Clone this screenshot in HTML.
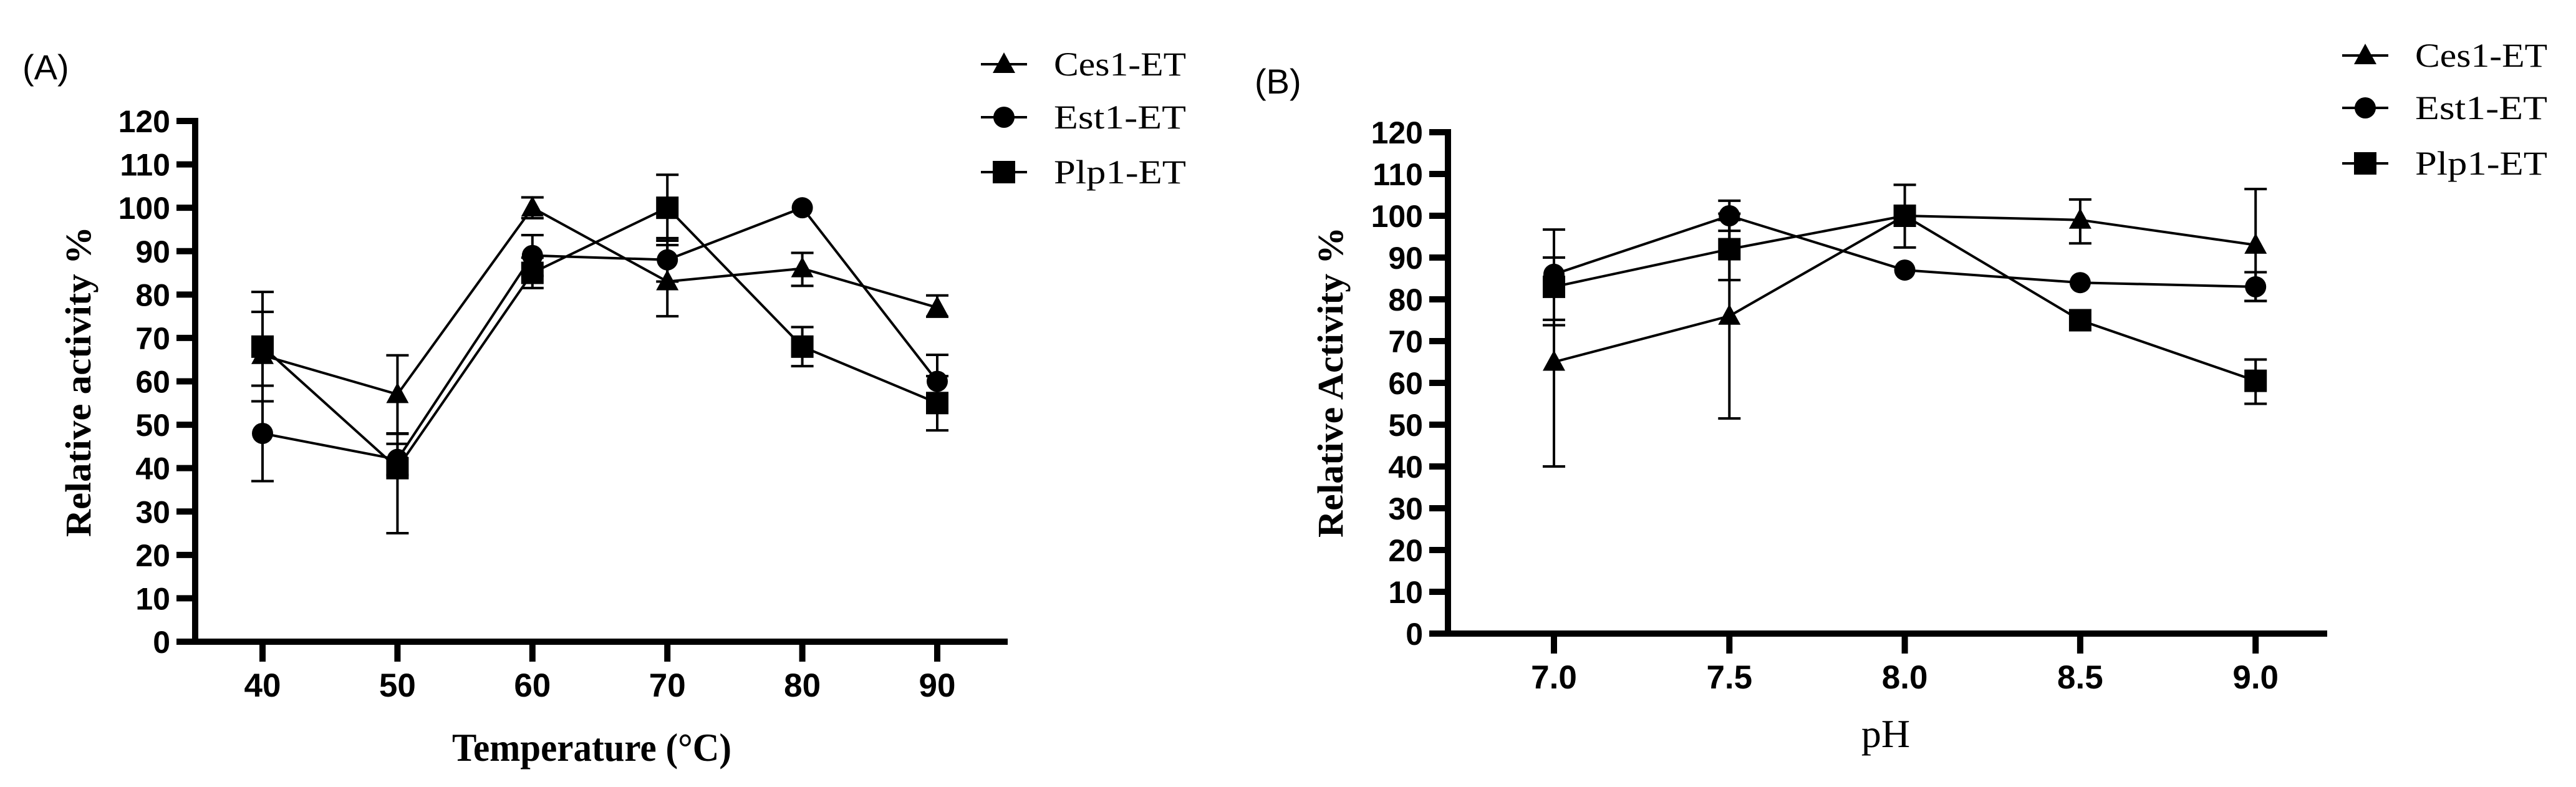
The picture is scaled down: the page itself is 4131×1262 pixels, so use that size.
<!DOCTYPE html>
<html><head><meta charset="utf-8"><style>
html,body{margin:0;padding:0;background:#fff;}
svg{display:block;}
</style></head><body>
<svg id="fig" xmlns="http://www.w3.org/2000/svg" width="4131" height="1262" viewBox="0 0 4131 1262">
<rect width="4131" height="1262" fill="#fff"/>
</svg>
<script>
// ---------- Panel A data (Temperature) ----------
const tempCategories = [40, 50, 60, 70, 80, 90];
const tempCes1 = [66, 57, 100, 83, 86, 77];
const tempCes1Hi = [76, 66, 102.4, 91.4, 89.6, 79.8];
const tempCes1Lo = [55.4, 48, 97.6, 75, 82, 74.9];
const tempEst1 = [48, 42, 89, 88, 100, 60];
const tempEst1Hi = [59, 45.6, 93.7, 93, 100, 66.1];
const tempEst1Lo = [37, 38.4, 84.3, 83, 100, 53.9];
const tempPlp1 = [68, 40, 85, 100, 68, 55];
const tempPlp1Hi = [80.6, 47.9, 88.5, 107.6, 72.5, 61.2];
const tempPlp1Lo = [55.4, 25, 81.5, 92.4, 63.5, 48.7];
// ---------- Panel B data (pH) ----------
const phCategories = ["7.0", "7.5", "8.0", "8.5", "9.0"];
const phCes1 = [65, 76, 100, 99, 93];
const phCes1Hi = [90, 100.5, 100, 103.9, 106.4];
const phCes1Lo = [40, 51.5, 100, 93.4, 79.6];
const phEst1 = [86, 100, 87, 84, 83];
const phEst1Hi = [96.7, 103.6, 87, 84, 86.5];
const phEst1Lo = [75.1, 96.4, 87, 84, 79.6];
const phPlp1 = [83, 92, 100, 75, 60.5];
const phPlp1Hi = [90, 99, 107.4, 75, 65.6];
const phPlp1Lo = [73.8, 84.6, 92.4, 75, 55];
const yTicks = [0,10,20,30,40,50,60,70,80,90,100,110,120];
const seriesNames = ["Ces1-ET", "Est1-ET", "Plp1-ET"];

const NS = "http://www.w3.org/2000/svg";
const svg = document.getElementById("fig");
function mk(tag, attrs, parent) {
  const e = document.createElementNS(NS, tag);
  for (const k in attrs) e.setAttribute(k, attrs[k]);
  (parent || svg).appendChild(e);
  return e;
}
function marker(g, shape, cx, cy) {
  let m;
  if (shape === "tri") m = mk("polygon", {points: `${cx},${cy-19} ${cx-18},${cy+14} ${cx+18},${cy+14}`, fill: "#000"}, g);
  else if (shape === "circ") m = mk("circle", {cx: cx, cy: cy, r: 17, fill: "#000"}, g);
  else m = mk("rect", {x: cx-18, y: cy-18, width: 36, height: 36, fill: "#000"}, g);
  return m;
}

function panel(cfg) {
  const g = mk("g", {});
  
  
  const yS = v => cfg.y0 - (cfg.y0 - cfg.y120) * v / 120;
  const xS = i => cfg.xFirst + i * cfg.xStep;
  const ya = mk("line", {x1: cfg.axX, y1: cfg.y120 - 5, x2: cfg.axX, y2: cfg.y0 + 5, stroke: "#000", "stroke-width": 10}, g);
  
  
  const xa = mk("line", {x1: cfg.xAxStart, y1: cfg.y0, x2: cfg.xAxEnd, y2: cfg.y0, stroke: "#000", "stroke-width": 10}, g);
  
  
  yTicks.forEach(t => {
    const y = yS(t);
    const tl = mk("line", {x1: cfg.axX - 30, y1: y, x2: cfg.axX, y2: y, stroke: "#000", "stroke-width": 10}, g);
    
    
    const tx = mk("text", {x: cfg.axX - 40, y: y + 18, "text-anchor": "end", "font-family": "Liberation Sans, sans-serif", "font-weight": "bold", "font-size": 50}, g);
    tx.textContent = t;
    
    
  });
  cfg.cats.forEach((c, i) => {
    const x = xS(i);
    const tl = mk("line", {x1: x, y1: cfg.y0, x2: x, y2: cfg.y0 + 32, stroke: "#000", "stroke-width": 10}, g);
    
    
    const tx = mk("text", {x: x, y: cfg.y0 + 88, "text-anchor": "middle", "font-family": "Liberation Sans, sans-serif", "font-weight": "bold", "font-size": 53}, g);
    tx.textContent = c;
    
    
  });
  const shapes = ["tri", "circ", "sq"];
  cfg.series.forEach((s, si) => {
    const sg = mk("g", {}, g);
    
    
    const pts = s.v.map((v, i) => `${xS(i)},${yS(v)}`).join(" ");
    const pl = mk("polyline", {points: pts, fill: "none", stroke: "#000", "stroke-width": 4}, sg);
    
    
    s.v.forEach((v, i) => {
      const x = xS(i);
      if (s.hi[i] !== v || s.lo[i] !== v) {
        const eg = mk("path", {d: `M${x},${yS(s.hi[i])}V${yS(s.lo[i])}M${x-18},${yS(s.hi[i])}h36M${x-18},${yS(s.lo[i])}h36`, stroke: "#000", "stroke-width": 4, fill: "none"}, sg);
        
        
      }
      const m = marker(sg, shapes[si], x, yS(v));
      
      
    });
  });
  const yt = mk("text", {x: 0, y: 0, transform: `translate(${cfg.ytX},${cfg.ytY}) rotate(-90)`, "text-anchor": "middle", "font-family": "Liberation Serif, serif", "font-weight": "bold", "font-size": 58, textLength: 498, lengthAdjust: "spacingAndGlyphs"}, g);
  yt.textContent = cfg.yTitle;
  
  
  const xt = mk("text", {x: cfg.xtX, y: cfg.xtY, "text-anchor": "middle", "font-family": "Liberation Serif, serif", "font-weight": cfg.xtWeight, "font-size": 64}, g);
  if (cfg.xtLen) { xt.setAttribute("textLength", cfg.xtLen); xt.setAttribute("lengthAdjust", "spacingAndGlyphs"); }
  xt.textContent = cfg.xTitle;
  
  
  const pl = mk("text", {x: cfg.plX, y: cfg.plY, "font-family": "Liberation Sans, sans-serif", "font-size": 56}, g);
  pl.textContent = cfg.label;
  
  
  cfg.legY.forEach((ly, i) => {
    const lg = mk("g", {}, g);
    
    
    mk("line", {x1: cfg.legX - 37, y1: ly, x2: cfg.legX + 37, y2: ly, stroke: "#000", "stroke-width": 4}, lg);
    marker(lg, shapes[i], cfg.legX, ly);
    const t = mk("text", {x: cfg.legX + 80, y: ly + 18, "font-family": "Liberation Serif, serif", "font-size": 54, textLength: 212, lengthAdjust: "spacingAndGlyphs"}, lg);
    t.textContent = seriesNames[i];
  });
}

panel({
  name: "temperature-chart", label: "(A)", plX: 36, plY: 127,
  cats: tempCategories, axX: 313, y0: 1029, y120: 194, xFirst: 421, xStep: 216.4,
  xAxStart: 284, xAxEnd: 1616,
  series: [{v: tempCes1, hi: tempCes1Hi, lo: tempCes1Lo}, {v: tempEst1, hi: tempEst1Hi, lo: tempEst1Lo}, {v: tempPlp1, hi: tempPlp1Hi, lo: tempPlp1Lo}],
  yTitle: "Relative activity %", ytX: 145, ytY: 612,
  xTitle: "Temperature (°C)", xtX: 949, xtY: 1220, xtLen: 448, xtWeight: "bold",
  legX: 1610, legY: [103, 188, 276]
});
panel({
  name: "ph-chart", label: "(B)", plX: 2012, plY: 150,
  cats: phCategories, axX: 2322, y0: 1016, y120: 212, xFirst: 2492, xStep: 281.3,
  xAxStart: 2292, xAxEnd: 3732,
  series: [{v: phCes1, hi: phCes1Hi, lo: phCes1Lo}, {v: phEst1, hi: phEst1Hi, lo: phEst1Lo}, {v: phPlp1, hi: phPlp1Hi, lo: phPlp1Lo}],
  yTitle: "Relative Activity %", ytX: 2153, ytY: 613,
  xTitle: "pH", xtX: 3024, xtY: 1198, xtLen: 0, xtWeight: "normal",
  legX: 3793, legY: [89, 173, 262]
});
</script>
</body></html>
